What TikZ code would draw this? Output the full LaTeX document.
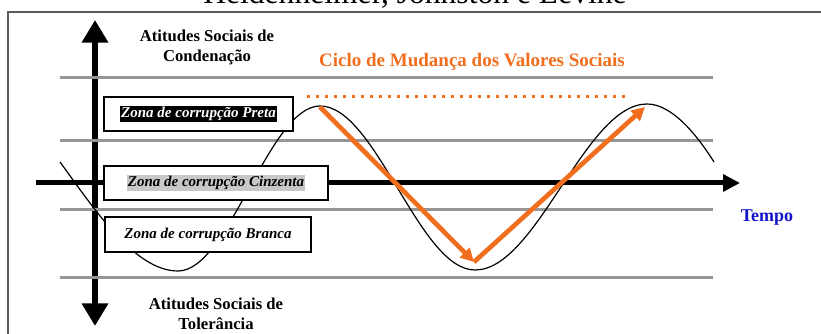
\documentclass[tikz,border=0pt]{standalone}
\usepackage{fontspec}
\setmainfont{Liberation Serif}
\usetikzlibrary{arrows.meta}

\definecolor{cicloorange}{RGB}{240,110,30}
\definecolor{tempoblue}{RGB}{20,20,200}
\definecolor{linegray}{RGB}{150,150,150}
\definecolor{zonegray}{RGB}{200,200,200}
\definecolor{framegray}{RGB}{90,90,90}

\begin{document}
\begin{tikzpicture}[x=0.75pt,y=0.75pt,yscale=-1,xscale=1,
  grayline/.style={color=linegray, line width=2.25pt},
  axisline/.style={line width=4.5pt},
  zonebox/.style={draw, line width=1pt, fill=white, inner sep=0pt, font=\fontsize{11.25}{13}\selectfont\bfseries\itshape},
  cyclearrow/.style={color=cicloorange, line width=3.5pt, -{Triangle[length=10pt,width=10pt]}},
  atitude/.style={align=center, font=\fontsize{12.5}{15}\selectfont\bfseries}]
\useasboundingbox (0,0) rectangle (821,334);

%Shape: Frame
\draw [color=framegray, line width=1.1pt] (8,345) -- (8,12) -- (830,12) ;
% Text Node
\node [anchor=base, font=\fontsize{23.7}{28}\selectfont] (titulo) at (415,4) {Heidenheimer, Johnston e Levine};

%Axis coordinates
\coordinate (vtop) at (95,20);
\coordinate (vbot) at (95,326);
\coordinate (hleft) at (36,183);
\coordinate (hright) at (740,183);
%Shape: Axis 2D
\draw [axisline, {Triangle[length=17pt,width=19pt]}-{Triangle[length=17pt,width=19pt]}] (vbot) -- (vtop) ;
\draw [line width=3.75pt, -{Triangle[length=12.75pt,width=12.5pt]}] (hleft) -- (hright) ;

%Shape: Gray levels
\foreach \y in {78,141,210,278}
  \draw [grayline] (60,\y) -- (713,\y) ;

%Curve Lines
\draw [line width=0.9pt] (60,162) .. controls (95,210) and (135,271) .. (178,271)
  .. controls (229,271) and (269,106) .. (320,106)
  .. controls (376,106) and (419,270) .. (475,270)
  .. controls (537,270) and (585,104) .. (647,104)
  .. controls (672,104) and (697,135) .. (714,162) ;

%Shape: Zones
\node [zonebox, minimum width=141.75pt, minimum height=25.5pt] (preta) at (198.5,114)
  {\setlength{\fboxsep}{1pt}\colorbox{black}{\textcolor{white}{Zona de corrupção Preta}}};
\node [zonebox, minimum width=168pt, minimum height=25.5pt] (cinzenta) at (216,183)
  {\setlength{\fboxsep}{1pt}\colorbox{zonegray}{Zona de corrupção Cinzenta}};
\node [zonebox, minimum width=154.5pt, minimum height=26.25pt] (branca) at (208,234.5)
  {Zona de corrupção Branca};

% Text Node
\node [atitude] (condenacao) at (207,47) {Atitudes Sociais de\\Condenação};
% Text Node
\node [atitude] (tolerancia) at (216,314) {Atitudes Sociais de\\Tolerância};
% Text Node
\node [font=\fontsize{13.5}{16}\selectfont\bfseries, color=tempoblue] (tempo) at (767,218) {Tempo};
% Text Node
\node [font=\fontsize{14.25}{17}\selectfont\bfseries, color=cicloorange] (ciclo) at (472,62) {Ciclo de Mudança dos Valores Sociais};

%Dotted level
\coordinate (dotL) at (307,97);
\coordinate (dotR) at (627,97);
\draw [color=cicloorange, line width=2.25pt, dash pattern=on 2.25pt off 4.5pt] (dotL) -- (dotR) ;

%Cycle arrows
\coordinate (peakA) at (320,107);
\coordinate (vale) at (474,262);
\coordinate (peakB) at (645,107);
\draw [cyclearrow] (peakA) -- (vale) ;
\draw [cyclearrow] (vale) -- (peakB) ;

\end{tikzpicture}
\end{document}
